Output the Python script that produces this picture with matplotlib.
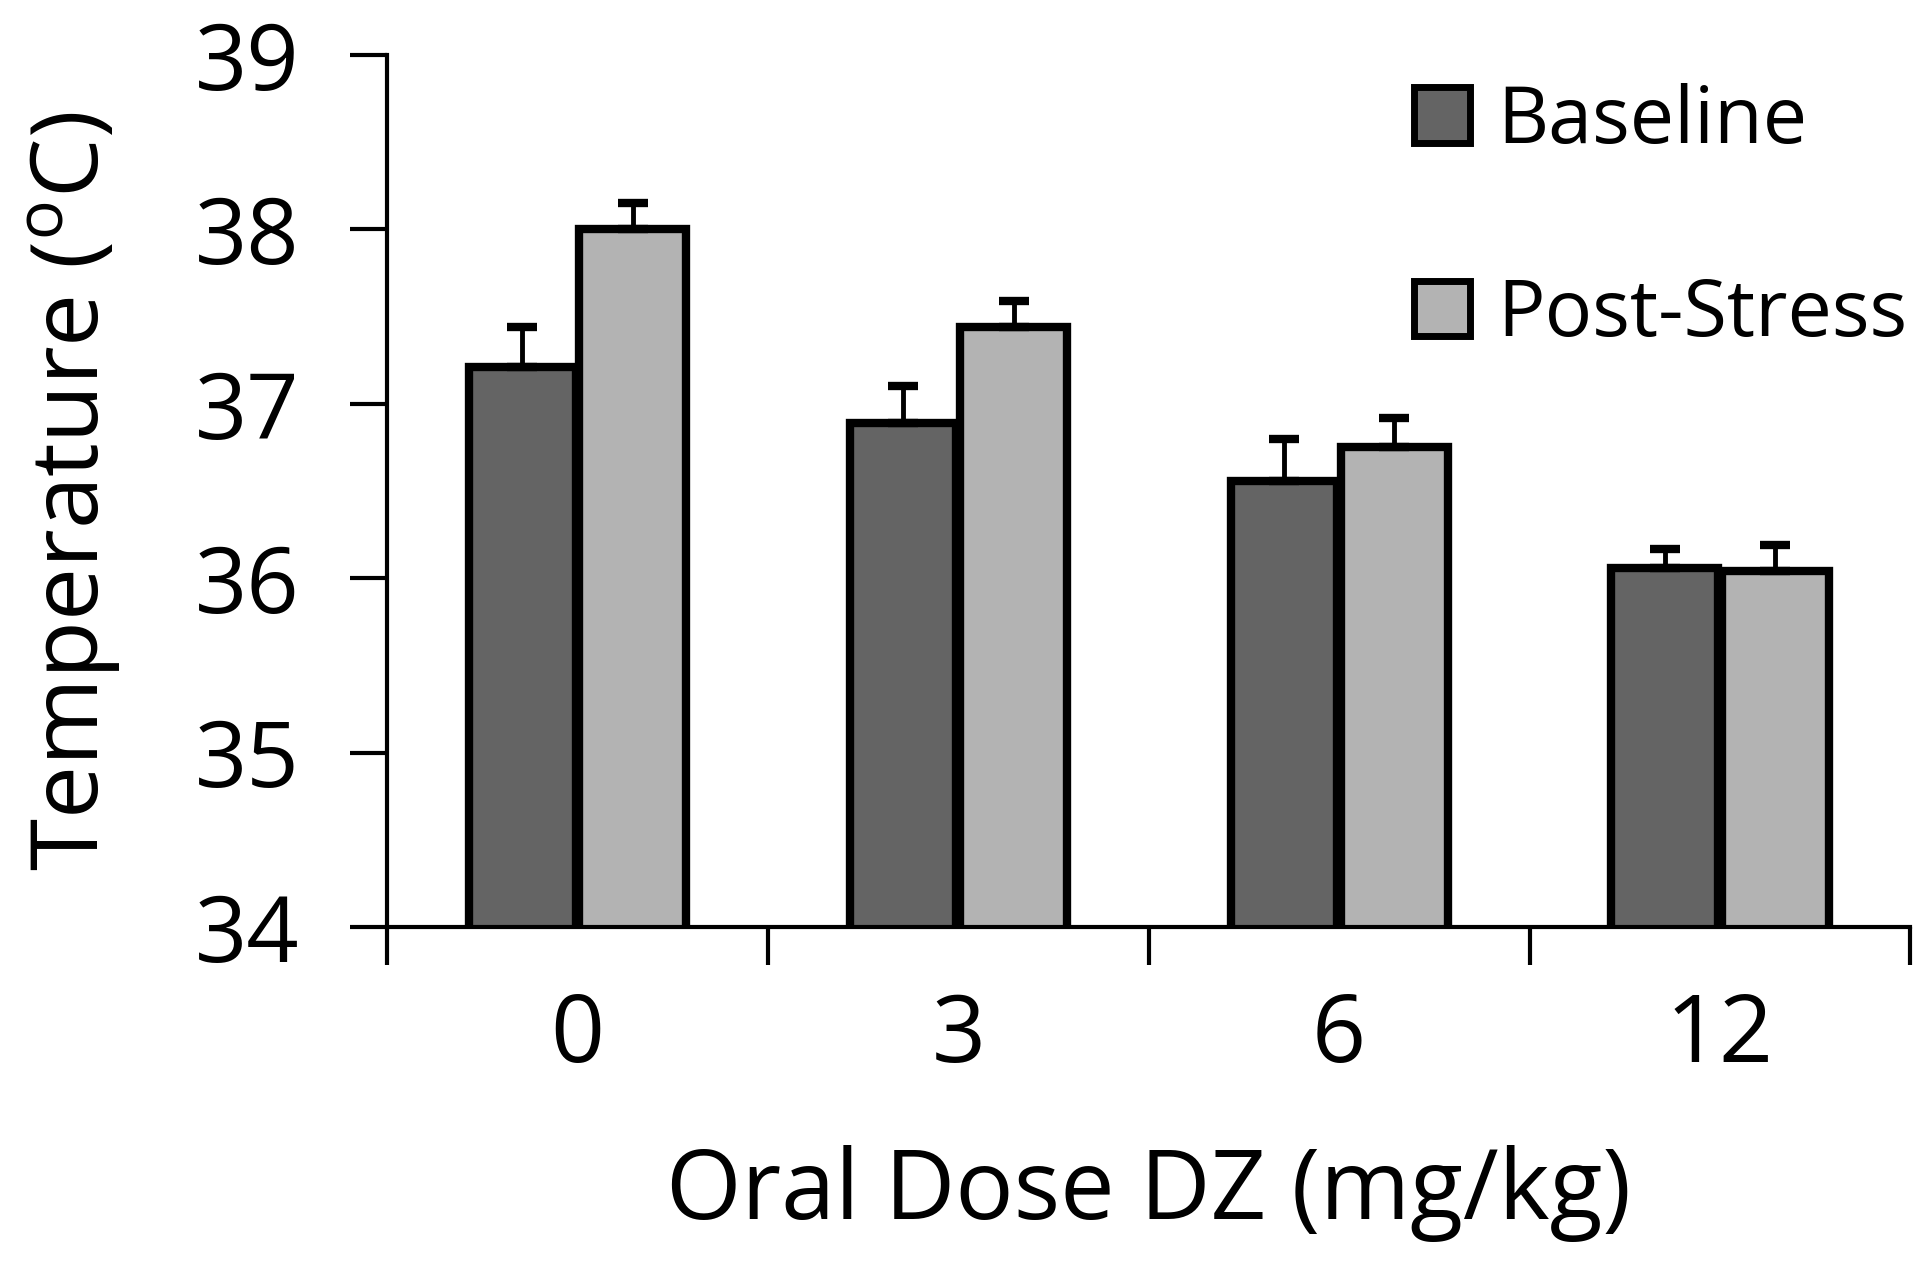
import numpy as np
import matplotlib
matplotlib.use("Agg")
import matplotlib.pyplot as plt

doses = ["0", "3", "6", "12"]
baseline = [37.21, 36.89, 36.56, 36.06]
baseline_err = [0.23, 0.21, 0.24, 0.11]
post_stress = [38.00, 37.44, 36.75, 36.04]
post_stress_err = [0.15, 0.15, 0.17, 0.15]

plt.rcParams['font.family'] = ['Open Sans', 'DejaVu Sans']
plt.rcParams['mathtext.fontset'] = 'custom'
plt.rcParams['mathtext.rm'] = 'Open Sans'
plt.rcParams['mathtext.it'] = 'Open Sans'

fig = plt.figure(figsize=(19.2, 12.62), dpi=100)
ax = fig.add_axes([0.2016, 0.2655, 0.7934, 0.6909])

x = np.arange(len(doses))
w = 0.28
eb = dict(ecolor='black', elinewidth=3.5, capsize=11, capthick=6)
ax.bar(x - 0.145, baseline, w, yerr=[np.zeros(4), baseline_err],
       color='#646464', edgecolor='black', linewidth=6, label='Baseline',
       error_kw=eb, zorder=2)
ax.bar(x + 0.145, post_stress, w, yerr=[np.zeros(4), post_stress_err],
       color='#b3b3b3', edgecolor='black', linewidth=6, label='Post-Stress',
       error_kw=eb, zorder=2)

ax.set_ylim(34, 39)
ax.set_xlim(-0.5, 3.5)
ax.set_yticks([34, 35, 36, 37, 38, 39])
ax.tick_params(axis='y', labelsize=66, width=3, length=27, direction='out', pad=36)
ax.set_xticks(np.arange(-0.5, 4, 1))
ax.set_xticklabels([])
ax.set_xticks(x, minor=True)
ax.set_xticklabels(doses, minor=True)
ax.tick_params(axis='x', which='major', width=3, length=27, direction='out')
ax.tick_params(axis='x', which='minor', length=0, labelsize=68, pad=46)

for s in ['top', 'right']:
    ax.spines[s].set_visible(False)
for s in ['left', 'bottom']:
    ax.spines[s].set_linewidth(3)

ax.set_ylabel(r'Temperature ($^{\mathrm{o}}$C)', fontsize=68, labelpad=52)
ax.set_xlabel('Oral Dose DZ (mg/kg)', fontsize=70, labelpad=44)

leg = ax.legend(loc='upper right', bbox_to_anchor=(1.045, 1.05), frameon=False,
                fontsize=57, handlelength=0.7, handleheight=0.7,
                handletextpad=0.35, labelspacing=1.45)
for h in leg.legend_handles:
    h.set_linewidth(5)

fig.savefig("out.png", dpi=100)
